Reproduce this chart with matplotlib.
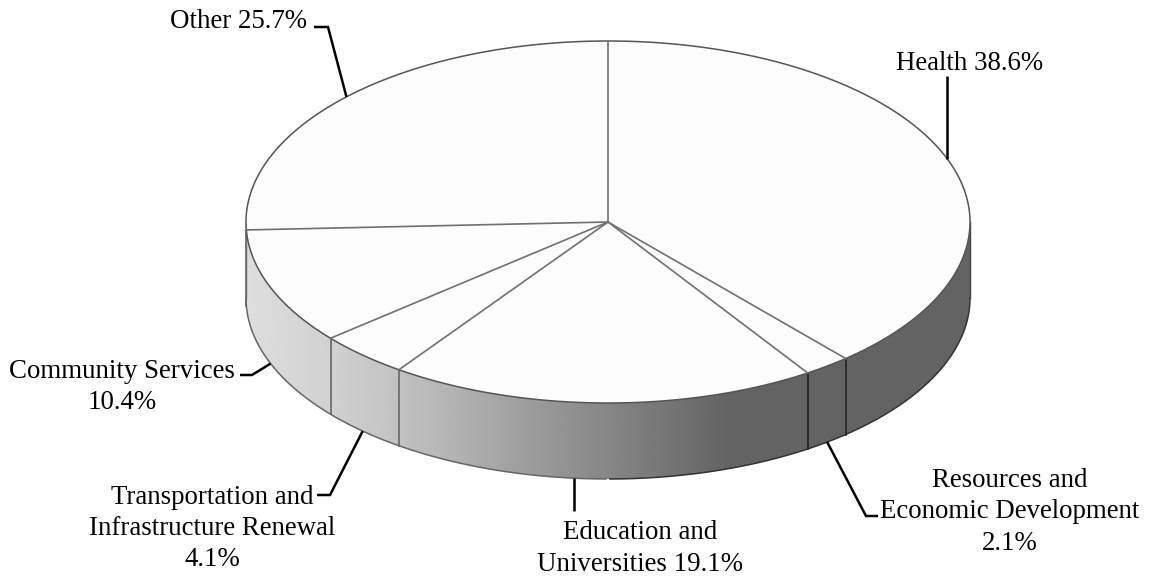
#!/usr/bin/env python3
"""
Spending by sector, drawn as a tilted pie with a shaded rim
"""

import numpy as np
import matplotlib.pyplot as plt
from matplotlib.patches import Polygon

# slices run clockwise from twelve o'clock
sectors = ['Health', 'Resources and Economic Development', 'Education and Universities',
           'Transportation and Infrastructure Renewal', 'Community Services', 'Other']
shares = [38.6, 2.1, 19.1, 4.1, 10.4, 25.7]

CX, CY = 608, 222
RX, RY = 362, 181
DEPTH = 76

plt.rcParams['font.family'] = ['Liberation Serif', 'DejaVu Serif']


def rim_point(pct, drop=0):
    """Point on the pie edge at a cumulative percentage, optionally on the lower rim"""
    a = np.radians(np.asarray(pct) * 3.6)
    return CX + RX * np.sin(a), CY - RY * np.cos(a) + drop


def main():
    fig = plt.figure(figsize=(11.5, 5.77), dpi=100)
    ax = fig.add_axes([0, 0, 1, 1])

    cum = np.cumsum(shares)
    starts = cum - np.array(shares)
    mids = starts + np.array(shares) / 2

    # side wall: horizontal gradient clipped to the band between the two edges
    t = np.linspace(25, 75, 300)
    top_x, top_y = rim_point(t)
    bot_x, bot_y = rim_point(t, DEPTH)
    wall = np.column_stack([np.r_[top_x, bot_x[::-1]], np.r_[top_y, bot_y[::-1]]])
    xs = np.arange(CX - RX, CX + RX + 1)
    shade = np.interp(xs, [246, 330, 400, 730, 970], [0.87, 0.82, 0.76, 0.39, 0.39])
    img = ax.imshow(shade[np.newaxis, :], cmap='gray', vmin=0, vmax=1, aspect='auto',
                    extent=[CX - RX, CX + RX, CY + RY + DEPTH, CY], zorder=1)
    clip = Polygon(wall, closed=True, transform=ax.transData, facecolor='none', edgecolor='none')
    ax.add_patch(clip)
    img.set_clip_path(clip)

    ax.set_xlim(0, 1150)
    ax.set_ylim(577, 0)
    ax.axis('off')

    # outline of the wall, softer on the light side
    left = bot_x < CX
    ax.plot(bot_x[left], bot_y[left], color='#666666', lw=1.1, zorder=2)
    ax.plot(bot_x[~left], bot_y[~left], color='#333333', lw=1.1, zorder=2)
    ax.plot([CX - RX, CX - RX], [CY, CY + DEPTH], color='#777777', lw=1.0, zorder=2)
    ax.plot([CX + RX, CX + RX], [CY, CY + DEPTH], color='#444444', lw=1.0, zorder=2)

    # top face
    t = np.linspace(0, 100, 721)
    ex, ey = rim_point(t)
    ax.fill(ex, ey, facecolor='#fdfdfd', edgecolor='#555555', lw=1.1, zorder=3)

    # slice boundaries on the face, carried down the wall where it is visible
    for p in starts:
        x, y = rim_point(p)
        ax.plot([CX, x], [CY, y], color='#707070', lw=1.2, zorder=4)
        if 25 < p < 75:
            ax.plot([x, x], [y, y + DEPTH], color='#666666' if x < CX else '#222222', lw=1.2, zorder=2)

    # leaders start at the middle of each slice's edge, Education sits a bit past it
    leader = dict(color='black', lw=1.8, zorder=5, solid_capstyle='butt', solid_joinstyle='miter')
    x, y = rim_point(mids[0])
    ax.plot([x, x], [y, 76], **leader)
    x, y = rim_point(mids[1], DEPTH)
    ax.plot([x, 866, 878], [y, 516, 516], **leader)
    x, y = rim_point(51.5, DEPTH)
    ax.plot([x, x], [y, 511], **leader)
    x, y = rim_point(mids[3], DEPTH)
    ax.plot([x, 330, 317], [y, 495, 495], **leader)
    x, y = rim_point(mids[4], DEPTH)
    ax.plot([x, 252, 240], [y, 375, 375], **leader)
    x, y = rim_point(mids[5])
    ax.plot([x, 328, 314], [y, 27, 27], **leader)

    fs = 19.4
    ls = 1.32
    ax.text(970, 64, f'Health {shares[0]}%', fontsize=fs, ha='center', va='center')
    ax.text(1010, 512, f'Resources and\nEconomic Development\n{shares[1]}%', fontsize=fs,
            ha='center', va='center', linespacing=ls)
    ax.text(640, 548.5, f'Education and\nUniversities {shares[2]}%', fontsize=fs,
            ha='center', va='center', linespacing=ls)
    ax.text(212, 528.5, f'Transportation and\nInfrastructure Renewal\n{shares[3]}%', fontsize=fs,
            ha='center', va='center', linespacing=ls)
    ax.text(122, 387, f'Community Services\n{shares[4]}%', fontsize=fs,
            ha='center', va='center', linespacing=ls)
    ax.text(238, 22, f'Other {shares[5]}%', fontsize=fs, ha='center', va='center')

    fig.savefig('out.png', dpi=100, facecolor='white')


if __name__ == "__main__":
    main()
